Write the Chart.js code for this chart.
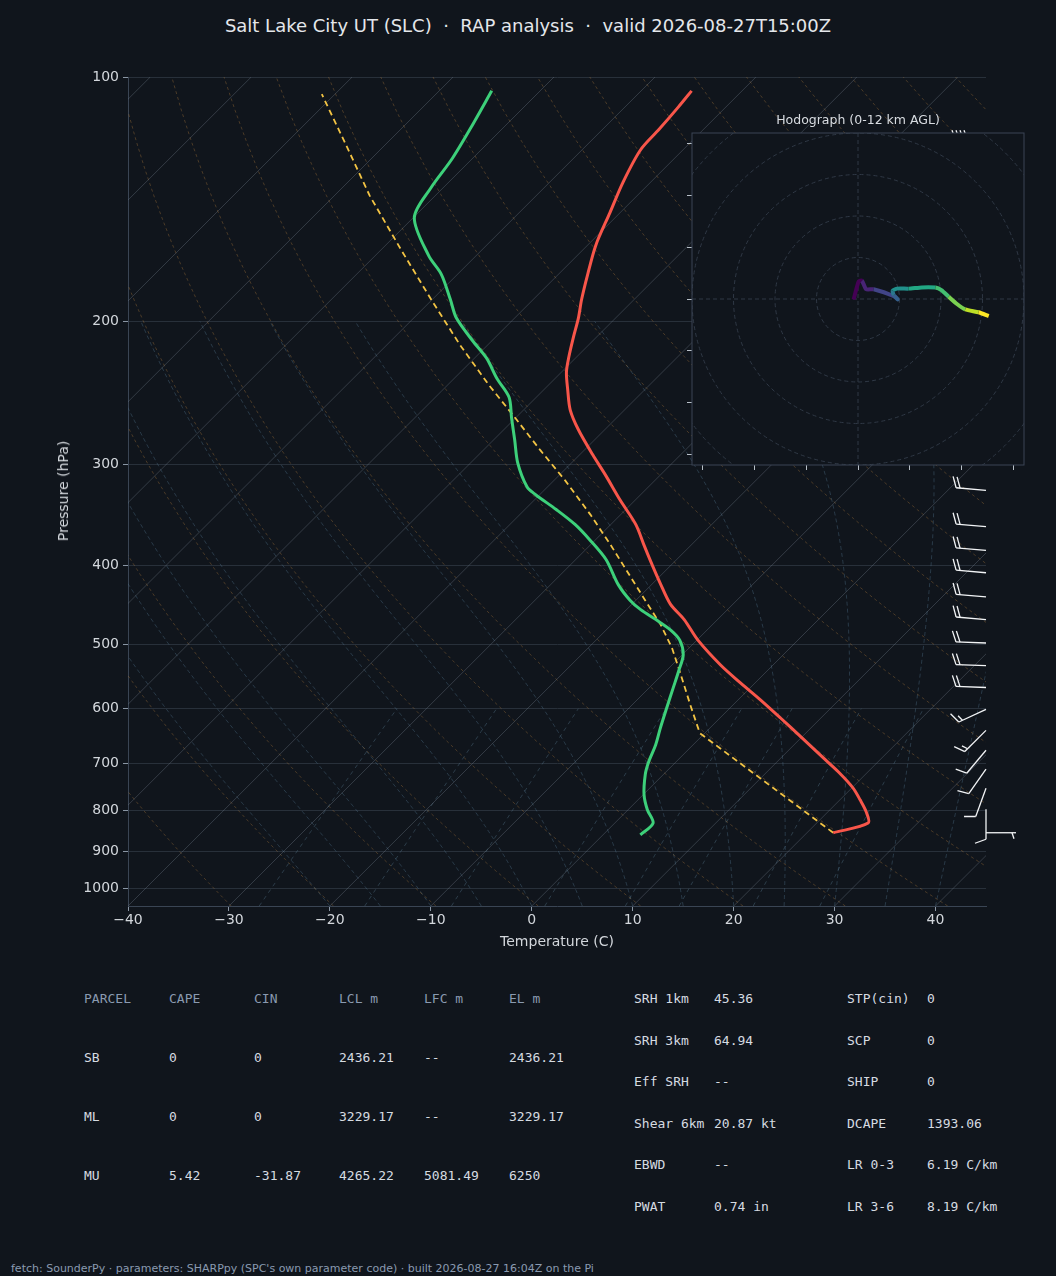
<!DOCTYPE html>
<html>
<head>
<meta charset="utf-8">
<script src="https://cdn.jsdelivr.net/npm/chart.js@4/dist/chart.umd.min.js"></script>
<style>
  body { margin:0; background:#10151c; width:1056px; height:1276px; position:relative; overflow:hidden; font-family:"DejaVu Sans",sans-serif; }
  #title { position:absolute; top:15px; left:0; width:1056px; text-align:center; color:#e4e7eb; font-size:18px; }
  #main { position:absolute; left:0; top:0; }
  #ytitle { position:absolute; left:63px; top:491px; color:#d3d7dc; font-size:14px; transform:translate(-50%,-50%) rotate(-90deg); white-space:nowrap; }
  #hodoWrap { position:absolute; left:686px; top:127px; width:340px; height:345px; }
  #hodoTitle { position:absolute; left:692px; top:112px; width:332px; text-align:center; color:#d8dce1; font-size:12.5px; }
  .t { position:absolute; font-family:"DejaVu Sans Mono",monospace; font-size:13px; color:#d6dbe1; white-space:pre; }
  .h { color:#8a9ab0; }
  #foot { position:absolute; left:11px; top:1262px; font-size:11px; color:#8a9ab0; white-space:pre; }
</style>
</head>
<body>
<div id="title">Salt Lake City UT (SLC) &nbsp;·&nbsp; RAP analysis &nbsp;·&nbsp; valid 2026-08-27T15:00Z</div>
<canvas id="main" width="1056" height="960"></canvas>
<div id="ytitle">Pressure (hPa)</div>
<div id="hodoTitle">Hodograph (0-12 km AGL)</div>
<div id="hodoWrap"><canvas id="hodo" width="340" height="345"></canvas></div>
<div id="tables"></div>
<div id="foot">fetch: SounderPy · parameters: SHARPpy (SPC's own parameter code) · built 2026-08-27 16:04Z on the Pi</div>
<script>
// ---- sounding data ----
const tempP = [853,830,804,777,751,718,688,650,616,585,558,530,494,466,446,421,399,377,356,332,310,292,272,257,243,231,221,209,198,188,175,161,147,135,123,116,109,104];
const tempC = [22.6,25.1,23.8,22.0,20.1,17.1,14.0,9.9,6.0,2.2,-1.4,-5.2,-9.9,-13.3,-16.2,-19.2,-21.9,-24.7,-27.5,-31.5,-35.3,-38.7,-42.6,-45.4,-47.6,-49.5,-50.8,-52.3,-53.7,-55.2,-57.1,-59.2,-61.0,-62.7,-64.2,-64.4,-64.7,-65.0];
const dewP = [858,830,799,766,723,698,665,634,598,566,538,515,494,480,466,453,441,422,393,372,356,341,327,320,299,280,263,248,235,222,211,198,188,175,166,149,137,126,114,104];
const dewC = [3.7,3.8,1.9,0.1,-1.8,-2.7,-3.7,-4.9,-6.3,-7.6,-8.8,-9.9,-11.7,-13.6,-16.1,-18.6,-20.6,-23.3,-27.0,-30.5,-33.5,-36.9,-40.4,-42.0,-45.3,-47.9,-50.4,-52.7,-55.8,-58.8,-62.0,-65.8,-68.2,-71.6,-74.7,-79.9,-81.2,-82.0,-83.4,-84.8];
const parcelP = [853,643,594,541,505,473,441,411,377,346,314,288,264,240,214,188,163,140,120,105];
const parcelC = [22.6,-0.5,-4.2,-8.5,-11.7,-15.1,-19.1,-23.1,-28.0,-33.0,-38.9,-44.4,-49.8,-55.8,-62.7,-70.1,-78.1,-86.5,-94.4,-101.3];
const barbP = [120,323,358,383,408,437,466,498,531,565,601,638,675,712,752,798,853];
const barbKt = [45,20,20,20,20,20,20,20,20,20,15,15,10,10,10,10,5];
const barbDir = [270,275,275,275,275,275,275,272,272,272,245,225,220,215,200,180,90];
const hodoU = [-2.1,0.3,1.9,3.9,7.5,14.8,18.3,19.1,17.2,16.7,18.8,24.4,30.8,37.3,40.2,43.7,47.7,51.7,58.1,63.0];
const hodoV = [-0.2,8.4,8.8,4.7,4.7,2.4,0.8,-0.2,1.9,4.0,5.0,5.0,5.6,5.5,4.3,1.1,-2.4,-5.0,-6.4,-8.2];
const pressureTicks = [100,200,300,400,500,600,700,800,900,1000];

// ---- table values ----
const parcelHead = ['PARCEL','CAPE','CIN','LCL m','LFC m','EL m'];
const parcelRows = [
  ['SB','0','0','2436.21','--','2436.21'],
  ['ML','0','0','3229.17','--','3229.17'],
  ['MU','5.42','-31.87','4265.22','5081.49','6250']
];
const paramsA = [['SRH 1km','45.36'],['SRH 3km','64.94'],['Eff SRH','--'],['Shear 6km','20.87 kt'],['EBWD','--'],['PWAT','0.74 in']];
const paramsB = [['STP(cin)','0'],['SCP','0'],['SHIP','0'],['DCAPE','1393.06'],['LR 0-3','6.19 C/km'],['LR 3-6','8.19 C/km']];

const SKEW = 80.5; // deg C per decade of pressure (45 degree isotherms)
const skx = (t, p) => t + SKEW * Math.log10(1050 / p);
const pts = (ps, ts) => ps.map((p, i) => ({ x: skx(ts[i], p), y: p }));

// ---- background lines ----
const levels = [];
for (let p = 1050; p >= 100; p -= 10) levels.push(p);
const bg = [];
function bgLine(data, color, dash) {
  bg.push({ data, showLine: true, borderColor: color, borderWidth: 1, borderDash: dash, pointRadius: 0, order: 10 });
}
for (let t = -120; t <= 40; t += 10) bgLine([{ x: skx(t, 1050), y: 1050 }, { x: skx(t, 100), y: 100 }], 'rgba(120,132,145,0.35)', []);
for (let th = 240; th <= 480; th += 10) bgLine(levels.map(p => ({ x: skx(th * Math.pow(p / 1000, 0.286) - 273.15, p), y: p })), 'rgba(170,120,60,0.38)', [3, 3]);
function satW(T, p) { const e = 6.112 * Math.exp(17.67 * (T - 273.15) / (T - 29.65)); return 0.622 * e / (p - e); }
for (let t0 = -20; t0 <= 40; t0 += 5) {
  let T = t0 + 273.15, data = [];
  for (let p = 1050; p >= 200; p -= 5) {
    data.push({ x: skx(T - 273.15, p), y: p });
    const rs = satW(T, p);
    const dTdp = (287 * T + 2.5e6 * rs) / (p * (1004 + 2.5e6 * 2.5e6 * rs * 0.622 / (287 * T * T)));
    T -= dTdp * 5;
  }
  bgLine(data, 'rgba(80,115,140,0.4)', [4, 3]);
}
for (const w of [0.4, 1, 2, 4, 7, 10, 16, 24]) {
  const data = [];
  for (let p = 1050; p >= 600; p -= 10) {
    const e = w * p / (622 + w), l = Math.log(e / 6.112);
    data.push({ x: skx(243.5 * l / (17.67 - l), p), y: p });
  }
  bgLine(data, 'rgba(80,110,130,0.45)', [4, 4]);
}

// ---- wind barbs ----
const barbPlugin = {
  id: 'barbs',
  afterDatasetsDraw(chart) {
    const c = chart.ctx, ys = chart.scales.y, x0 = chart.chartArea.right;
    c.save();
    c.strokeStyle = '#f2f4f6'; c.lineWidth = 1.3;
    barbP.forEach((p, i) => {
      const y0 = ys.getPixelForValue(p);
      const a = barbDir[i] * Math.PI / 180;
      // staff points toward the direction the wind comes from
      const fx = Math.sin(a), fy = -Math.cos(a);
      const L = 30;
      const endX = x0 + fx * L, endY = y0 + fy * L;
      c.beginPath(); c.moveTo(x0, y0); c.lineTo(endX, endY); c.stroke();
      const px = -fy, py = fx;
      let kt = barbKt[i], pos = 0;
      while (kt >= 10) {
        const bx = endX - fx * pos, by = endY - fy * pos;
        c.beginPath(); c.moveTo(bx, by); c.lineTo(bx + px * 11 + fx * 4, by + py * 11 + fy * 4); c.stroke();
        kt -= 10; pos += 4;
      }
      if (kt >= 5) {
        if (pos === 0) pos = 4;
        const bx = endX - fx * pos, by = endY - fy * pos;
        c.beginPath(); c.moveTo(bx, by); c.lineTo(bx + px * 6 + fx * 2, by + py * 6 + fy * 2); c.stroke();
      }
    });
    c.restore();
  }
};

const tickFont = { family: 'DejaVu Sans', size: 14 };
new Chart(document.getElementById('main'), {
  type: 'scatter',
  data: {
    datasets: [
      ...bg,
      { label: 'Parcel', data: pts(parcelP, parcelC), showLine: true, borderColor: '#f3c444', borderWidth: 1.8, borderDash: [6, 4], pointRadius: 0, order: 3 },
      { label: 'Dewpoint', data: pts(dewP, dewC), showLine: true, borderColor: '#3dd07a', borderWidth: 3, pointRadius: 0, tension: 0.3, order: 2 },
      { label: 'Temperature', data: pts(tempP, tempC), showLine: true, borderColor: '#f8564a', borderWidth: 3, pointRadius: 0, tension: 0.3, order: 1 }
    ]
  },
  options: {
    responsive: false, animation: false,
    layout: { padding: { left: 0, right: 70, top: 77, bottom: 9 } },
    plugins: { legend: { display: false }, tooltip: { enabled: false } },
    scales: {
      x: {
        type: 'linear', min: -40, max: 45,
        afterBuildTicks: s => { s.ticks = [-40, -30, -20, -10, 0, 10, 20, 30, 40].map(v => ({ value: v })); },
        afterFit: s => { s.height = 45; },
        ticks: { color: '#d3d7dc', font: tickFont, padding: 1, callback: v => String(v).replace('-', '\u2212') },
        grid: { drawOnChartArea: false, color: '#8a96a4', tickLength: 5 },
        border: { color: '#3a4554' },
        title: { display: true, text: 'Temperature (C)', color: '#d3d7dc', font: tickFont, padding: 0 }
      },
      y: {
        type: 'logarithmic', min: 100, max: 1050, reverse: true,
        afterBuildTicks: s => { s.ticks = pressureTicks.map(v => ({ value: v })); },
        afterFit: s => { s.width = 128; },
        ticks: { color: '#d3d7dc', font: tickFont, padding: 4, callback: v => String(v) },
        grid: { color: '#28303a', tickLength: 5, tickColor: '#8a96a4' },
        border: { color: '#3a4554' }
      }
    }
  },
  plugins: [barbPlugin]
});

// ---- hodograph ----
const viridis = ['#440154','#482475','#414487','#355f8d','#2a788e','#21918c','#22a884','#44bf70','#7ad151','#bddf26','#fde725'];
function vir(f) { const i = Math.min(viridis.length - 2, Math.floor(f * (viridis.length - 1))); return viridis[f >= 1 ? viridis.length - 1 : i]; }
const hodoBg = {
  id: 'hodoBg',
  beforeDatasetsDraw(chart) {
    const c = chart.ctx, a = chart.chartArea, xs = chart.scales.x, ys = chart.scales.y;
    c.save();
    c.fillStyle = '#10151c'; c.fillRect(a.left, a.top, a.width, a.height);
    c.beginPath(); c.rect(a.left, a.top, a.width, a.height); c.clip();
    const cx = xs.getPixelForValue(0), cy = ys.getPixelForValue(0), k = xs.getPixelForValue(1) - cx;
    c.strokeStyle = '#2f3845'; c.lineWidth = 1; c.setLineDash([4, 3]);
    [20, 40, 60, 80, 100].forEach(r => { c.beginPath(); c.arc(cx, cy, r * k, 0, Math.PI * 2); c.stroke(); });
    c.beginPath(); c.moveTo(a.left, cy); c.lineTo(a.right, cy); c.moveTo(cx, a.top); c.lineTo(cx, a.bottom); c.stroke();
    c.restore();
    c.save(); c.strokeStyle = '#3a4554'; c.lineWidth = 1; c.strokeRect(a.left, a.top, a.width, a.height); c.restore();
  }
};
new Chart(document.getElementById('hodo'), {
  type: 'scatter',
  data: {
    datasets: [{
      data: hodoU.map((u, i) => ({ x: u, y: hodoV[i] })),
      showLine: true, borderWidth: 4, pointRadius: 0, tension: 0.2,
      borderColor: '#21918c',
      segment: { borderColor: ctx => vir(ctx.p0DataIndex / (hodoU.length - 2)) }
    }]
  },
  options: {
    responsive: false, animation: false,
    layout: { padding: { left: 0, right: 2, top: 6, bottom: 0 } },
    plugins: { legend: { display: false }, tooltip: { enabled: false } },
    scales: {
      x: { min: -80, max: 80, afterFit: s => { s.height = 7; },
        afterBuildTicks: s => { s.ticks = [-75, -50, -25, 0, 25, 50, 75].map(v => ({ value: v })); },
        ticks: { display: false }, grid: { drawOnChartArea: false, tickLength: 5, color: '#b8c0c8' }, border: { display: false } },
      y: { min: -80, max: 80, afterFit: s => { s.width = 6; },
        afterBuildTicks: s => { s.ticks = [-75, -50, -25, 0, 25, 50, 75].map(v => ({ value: v })); },
        ticks: { display: false }, grid: { drawOnChartArea: false, tickLength: 5, color: '#b8c0c8' }, border: { display: false } }
    }
  },
  plugins: [hodoBg]
});

// ---- tables ----
const tb = document.getElementById('tables');
function put(txt, x, y, cls) { const d = document.createElement('div'); d.className = 't ' + (cls || ''); d.textContent = txt; d.style.left = x + 'px'; d.style.top = (y - 8) + 'px'; tb.appendChild(d); }
parcelHead.forEach((h, j) => put(h, 84 + 85 * j, 999, 'h'));
parcelRows.forEach((r, i) => r.forEach((v, j) => put(v, 84 + 85 * j, 1058 + 59 * i)));
paramsA.forEach((r, i) => { put(r[0], 634, 999 + 41.6 * i); put(r[1], 714, 999 + 41.6 * i); });
paramsB.forEach((r, i) => { put(r[0], 847, 999 + 41.6 * i); put(r[1], 927, 999 + 41.6 * i); });
</script>
</body>
</html>
